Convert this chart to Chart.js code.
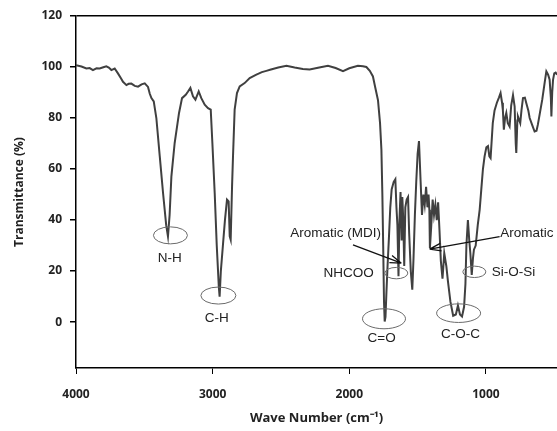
<!DOCTYPE html>
<html>
<head>
<meta charset="utf-8">
<script src="https://cdn.jsdelivr.net/npm/chart.js@4.4.1/dist/chart.umd.min.js"></script>
<style>
    body { margin: 0; background: #fff; }
    canvas { display: block; }
</style>
</head>
<body>
<canvas id="ChartFTIR" width="557" height="431"></canvas>
<script>
// spectrum (wave number in cm-1, transmittance in %)
const waveNumber = [
    4000, 3960, 3924, 3900, 3876, 3850, 3827, 3800, 3778, 3760, 3741, 3717, 3693, 3670, 3656, 3631,
    3615, 3595, 3570, 3546, 3520, 3497, 3473, 3460, 3448, 3431, 3412, 3387, 3363, 3340, 3327, 3315,
    3302, 3278, 3246, 3224, 3197, 3180, 3163, 3144, 3126, 3102, 3083, 3058, 3034, 3014, 3002, 2985,
    2970, 2955, 2949, 2940, 2925, 2910, 2895, 2883, 2875, 2868, 2858, 2851, 2839, 2822, 2802, 2766,
    2729, 2680, 2640, 2607, 2580, 2520, 2460, 2400, 2340, 2290, 2220, 2156, 2100, 2046, 2000, 1937,
    1900, 1875, 1850, 1827, 1810, 1790, 1775, 1765, 1758, 1752, 1746, 1741, 1735, 1728, 1720, 1710,
    1700, 1690, 1675, 1663, 1655, 1648, 1640, 1633, 1625, 1617, 1612, 1605, 1598, 1590, 1580, 1570,
    1562, 1550, 1539, 1530, 1520, 1510, 1500, 1490, 1478, 1468, 1458, 1448, 1438, 1428, 1420, 1414,
    1410, 1400, 1390, 1380, 1370, 1360, 1350, 1340, 1330, 1318, 1305, 1290, 1278, 1260, 1240, 1220,
    1205, 1190, 1175, 1160, 1150, 1143, 1132, 1122, 1114, 1104, 1095, 1088, 1075, 1060, 1046, 1034,
    1022, 1010, 997, 985, 975, 966, 950, 937, 920, 905, 893, 882, 876, 869, 860, 851,
    840, 827, 815, 802, 790, 782, 778, 770, 766, 749, 740, 729, 715, 705, 690, 680,
    660, 644, 630, 620, 605, 588, 570, 558, 545, 534, 525, 521, 515, 509, 500, 490, 480
];
const transmittance = [
    100.7, 100.2, 99.4, 99.6, 98.8, 99.5, 99.4, 99.9, 100.3, 99.8, 98.8, 99.4, 97.5, 95.5, 94.2, 92.9,
    93.4, 93.5, 92.6, 92.3, 93.2, 93.6, 92.2, 89.5, 87.8, 86.5, 80, 65, 50.6, 38, 33.6, 42,
    57, 70.2, 82, 87.8, 89.1, 90.4, 91.8, 88.5, 87.2, 90.4, 87.8, 85.2, 83.9, 83.3, 70.2, 50.6,
    30, 14, 10, 20, 30, 40, 48, 47.3, 33.6, 32.3, 53.2, 65, 83.3, 89.8, 92.4, 93.7,
    95.7, 97, 98, 98.5, 98.9, 99.8, 100.5, 99.8, 99.2, 99, 99.8, 100.5, 99.6, 98.4, 99.5, 100.5,
    100.3, 100, 98.5, 96.3, 92, 87, 78, 67.6, 50, 30, 8, 0.2, 2, 12, 22, 33,
    45, 52, 55, 56, 45, 38, 18, 40, 51, 32, 49, 40, 22, 45, 48, 49,
    35, 20, 12.7, 25, 42, 55, 66, 71, 55, 42, 50, 46, 53, 45, 50, 44,
    29, 38, 48, 42, 46, 40, 47, 36, 24, 17, 27, 22, 16, 8, 2.5, 3,
    6.5, 3, 2.2, 6, 15, 30, 40, 32, 27, 18.5, 25, 28.4, 30, 38, 44, 52,
    60, 65, 68.5, 69, 65, 64.3, 78, 83, 86, 88, 89.8, 86, 83, 75.4, 80, 82,
    78, 76.7, 85, 89, 84.5, 70, 66.3, 79, 80.6, 78, 83, 87.8, 88, 85.9, 83, 80,
    77, 74.7, 75, 77.4, 82, 87.2, 94, 98.3, 97, 95, 88, 80.6, 90, 95, 97.5, 97.8, 97
];

const xTicks = [4000, 3000, 2000, 1000];
const yTicks = [0, 20, 40, 60, 80, 100, 120];

// band assignments: circled peaks and their captions
const bandNames = ['N-H', 'C-H', 'C=O', 'NHCOO', 'C-O-C', 'Si-O-Si'];
const bandWn = [3309, 2958, 1746, 1656, 1200, 1085];
const bandT = [34, 10.4, 1.3, 19.2, 3.5, 19.7];
const captionWn = [3314, 2970, 1763, 2005, 1186, 958];
const captionT = [25.2, 1.3, -6.3, 19.3, -4.6, 19.7];

// arrowed labels
const arrowNames = ['Aromatic (MDI)', 'Aromatic'];
const arrowTextWn = [2100, 895];
const arrowTextT = [34.8, 34.8];
const arrowFromWn = [1973, 900];
const arrowFromT = [30.3, 33.5];
const arrowToWn = [1619, 1412];
const arrowToT = [23.1, 28.6];

const ellipseSize = [[17, 8.5], [17.5, 8.5], [21.5, 10], [11.5, 5.7], [22, 9.3], [11.5, 5.7]];
const captionAlign = ['center', 'center', 'center', 'center', 'center', 'left'];

const annotationPlugin = {
    id: 'bandNotes',
    afterDatasetsDraw(chart) {
        const ctx = chart.ctx;
        const xs = chart.scales.x;
        const ys = chart.scales.y;
        ctx.save();
        ctx.font = '13.5px "Liberation Sans", Arial, sans-serif';
        ctx.fillStyle = '#222';
        ctx.textBaseline = 'middle';

        bandNames.forEach((name, i) => {
            const cx = xs.getPixelForValue(bandWn[i]);
            const cy = ys.getPixelForValue(bandT[i]);
            ctx.beginPath();
            ctx.ellipse(cx, cy, ellipseSize[i][0], ellipseSize[i][1], 0, 0, Math.PI * 2);
            ctx.strokeStyle = '#6a6a6a';
            ctx.lineWidth = 1;
            ctx.stroke();

            ctx.textAlign = captionAlign[i];
            ctx.fillText(name, xs.getPixelForValue(captionWn[i]), ys.getPixelForValue(captionT[i]));
        });

        arrowNames.forEach((name, i) => {
            ctx.textAlign = i === 0 ? 'center' : 'left';
            ctx.fillText(name, xs.getPixelForValue(arrowTextWn[i]), ys.getPixelForValue(arrowTextT[i]));

            const x1 = xs.getPixelForValue(arrowFromWn[i]);
            const y1 = ys.getPixelForValue(arrowFromT[i]);
            const x2 = xs.getPixelForValue(arrowToWn[i]);
            const y2 = ys.getPixelForValue(arrowToT[i]);
            const ang = Math.atan2(y2 - y1, x2 - x1);
            ctx.strokeStyle = '#111';
            ctx.lineWidth = 1.3;
            ctx.beginPath();
            ctx.moveTo(x1, y1);
            ctx.lineTo(x2, y2);
            [-0.32, 0.32].forEach(d => {
                ctx.moveTo(x2, y2);
                ctx.lineTo(x2 - 12 * Math.cos(ang + d), y2 - 12 * Math.sin(ang + d));
            });
            ctx.stroke();
        });
        ctx.restore();
    }
};

const tickFont = { family: '"Open Sans", sans-serif', size: 12, weight: 'bold' };

const ctx = document.getElementById('ChartFTIR').getContext('2d');
const chartFTIR = new Chart(ctx, {
    type: 'line',
    data: {
        datasets: [{
            label: 'FTIR',
            data: waveNumber.map((w, i) => ({ x: w, y: transmittance[i] })),
            borderColor: '#404040',
            borderWidth: 2,
            pointRadius: 0,
            tension: 0,
            fill: false
        }]
    },
    options: {
        responsive: false,
        animation: false,
        layout: {
            padding: { top: 16, right: 0, left: 0, bottom: 0 }
        },
        plugins: {
            legend: { display: false },
            tooltip: { enabled: false }
        },
        scales: {
            x: {
                type: 'linear',
                reverse: true,
                min: 480,
                max: 4000,
                afterBuildTicks: scale => { scale.ticks = xTicks.map(v => ({ value: v })); },
                afterFit: scale => { scale.height = 63; },
                border: { display: true, color: '#000', width: 1.5 },
                grid: {
                    drawOnChartArea: false,
                    drawTicks: true,
                    tickLength: 6,
                    tickColor: '#000'
                },
                ticks: {
                    color: '#222',
                    font: tickFont,
                    padding: 13,
                    maxRotation: 0,
                    callback: v => v
                },
                title: {
                    display: true,
                    text: 'Wave Number (cm⁻¹)',
                    color: '#222',
                    font: { family: '"Open Sans", sans-serif', size: 13, weight: 'bold' },
                    padding: { top: 0, bottom: 5 }
                }
            },
            y: {
                min: -18,
                max: 120,
                afterBuildTicks: scale => { scale.ticks = yTicks.map(v => ({ value: v })); },
                afterFit: scale => { scale.width = 76; },
                border: { display: true, color: '#000', width: 1.5 },
                grid: {
                    drawOnChartArea: true,
                    color: c => (c.tick && c.tick.value === 120) ? '#000' : 'rgba(0,0,0,0)',
                    lineWidth: 1.5,
                    drawTicks: true,
                    tickLength: 6,
                    tickColor: '#000'
                },
                ticks: {
                    color: '#222',
                    font: tickFont,
                    padding: 8
                },
                title: {
                    display: true,
                    text: 'Transmittance (%)',
                    color: '#222',
                    font: { family: '"Open Sans", sans-serif', size: 12, weight: 'bold' },
                    padding: { top: 12, bottom: 0 }
                }
            }
        }
    },
    plugins: [annotationPlugin]
});
</script>
</body>
</html>
